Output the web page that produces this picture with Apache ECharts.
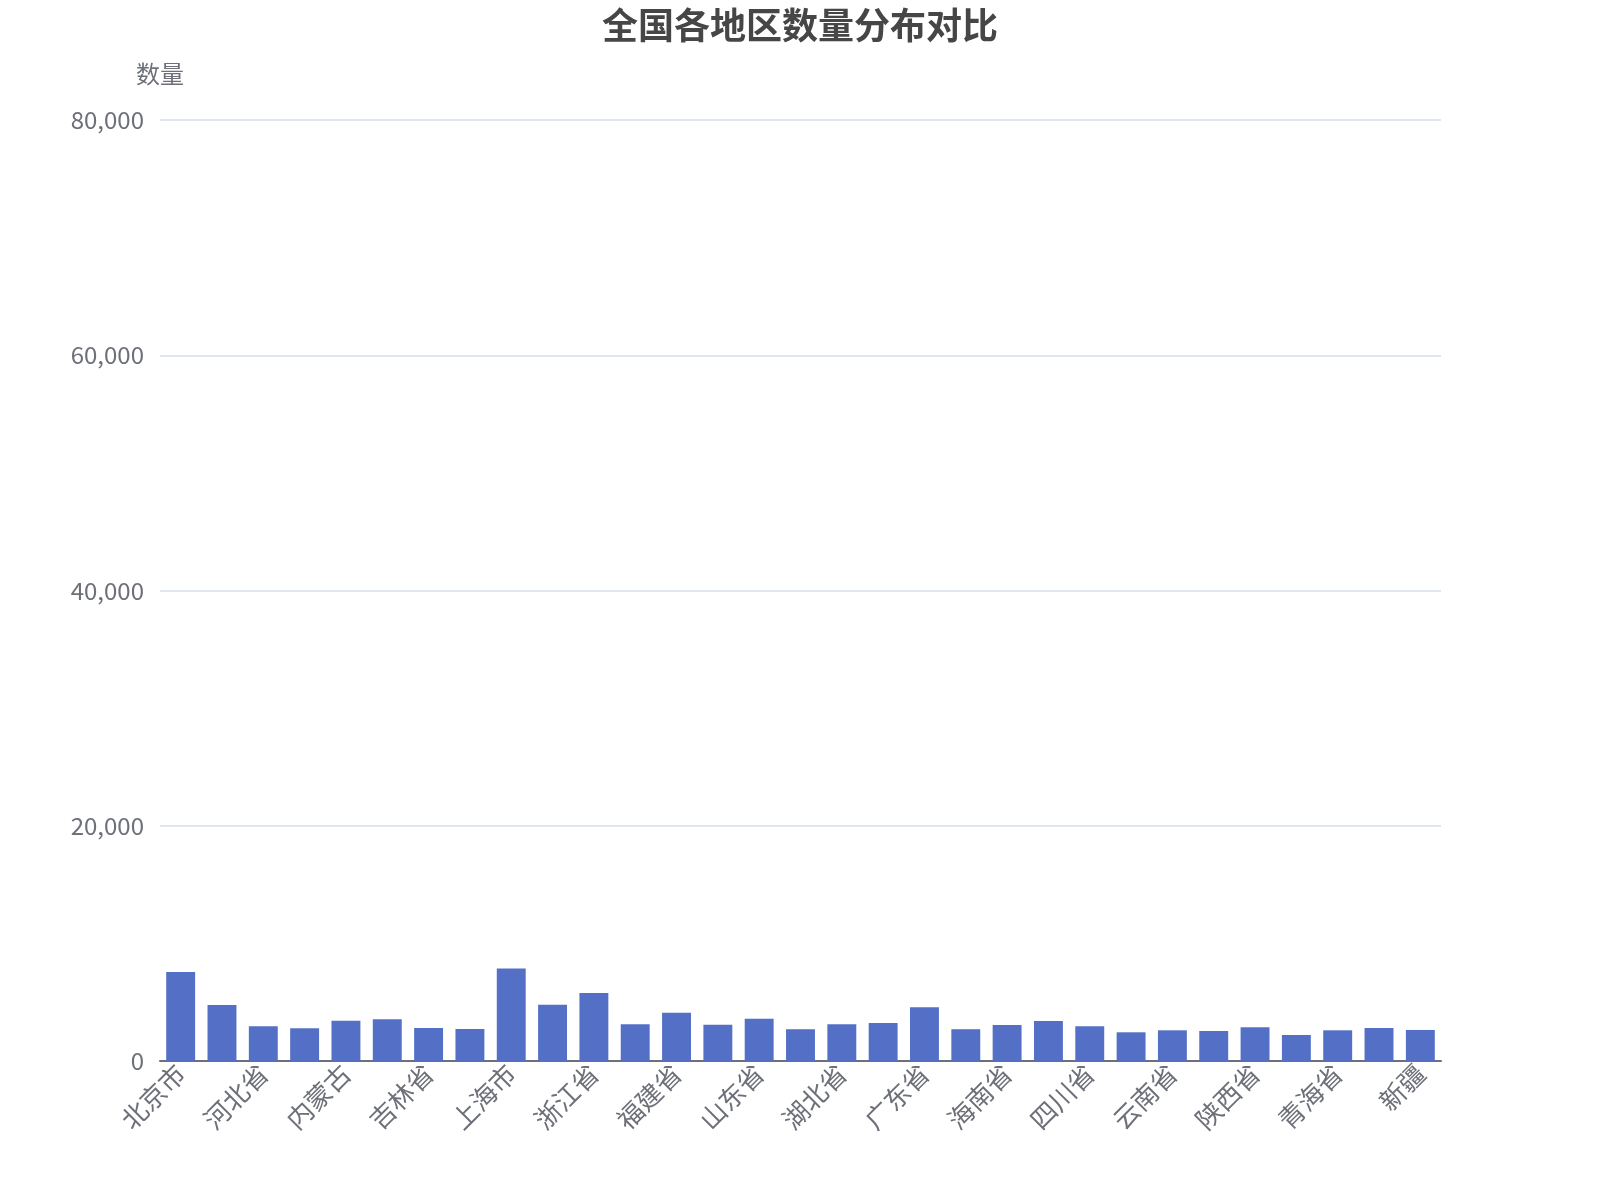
<!DOCTYPE html>
<html>
<head>
<meta charset="utf-8">
<title>全国各地区数量分布对比</title>
<script src="https://cdn.jsdelivr.net/npm/echarts@6/dist/echarts.min.js"></script>
<style>
    html, body { margin: 0; padding: 0; background: #fff; }
    #main { width: 1600px; height: 1200px; }
</style>
</head>
<body>
<div id="main"></div>
<script>
    // 地区
    var regions = ['北京市', '天津市', '河北省', '山西省', '内蒙古', '辽宁省', '吉林省', '黑龙江省',
        '上海市', '江苏省', '浙江省', '安徽省', '福建省', '江西省', '山东省', '河南省',
        '湖北省', '湖南省', '广东省', '广西', '海南省', '重庆市', '四川省', '贵州省',
        '云南省', '西藏', '陕西省', '甘肃省', '青海省', '宁夏', '新疆'];

    // 数量
    var counts = [7570, 4770, 2950, 2780, 3430, 3550, 2810, 2720,
        7860, 4790, 5790, 3120, 4110, 3090, 3600, 2700,
        3120, 3230, 4570, 2700, 3060, 3400, 2950, 2440,
        2610, 2550, 2870, 2210, 2610, 2810, 2640];

    // y轴刻度
    var yMin = 0;
    var yMax = 80000;
    var yStep = 20000;

    var myChart = echarts.init(document.getElementById('main'));

    var option = {
        animation: false,
        title: {
            text: '全国各地区数量分布对比',
            left: 'center',
            top: 2,
            textStyle: {
                fontSize: 36,
                fontWeight: 'bold',
                color: '#464646',
                fontFamily: 'Noto Sans CJK SC'
            }
        },
        grid: {
            left: 160,
            right: 159,
            top: 120,
            bottom: 139
        },
        xAxis: {
            type: 'category',
            data: regions,
            axisLine: { lineStyle: { color: '#6E7079', width: 2 } },
            axisTick: { length: 7, lineStyle: { width: 2 } },
            axisLabel: {
                interval: 1,
                rotate: 45,
                fontSize: 26,
                color: '#6E7079',
                fontFamily: 'Noto Sans CJK SC'
            }
        },
        yAxis: {
            type: 'value',
            name: '数量',
            nameGap: 34,
            nameTextStyle: {
                fontSize: 24,
                color: '#6E7079',
                fontFamily: 'Noto Sans CJK SC'
            },
            min: yMin,
            max: yMax,
            interval: yStep,
            axisLabel: {
                fontSize: 24,
                margin: 16,
                color: '#6E7079',
                fontFamily: 'Noto Sans CJK SC'
            },
            splitLine: { lineStyle: { color: '#E0E6F1', width: 2 } }
        },
        series: [
            {
                name: '数量',
                type: 'bar',
                data: counts,
                barWidth: '70%',
                itemStyle: { color: '#5470c6' }
            }
        ]
    };

    myChart.setOption(option);
</script>
</body>
</html>
